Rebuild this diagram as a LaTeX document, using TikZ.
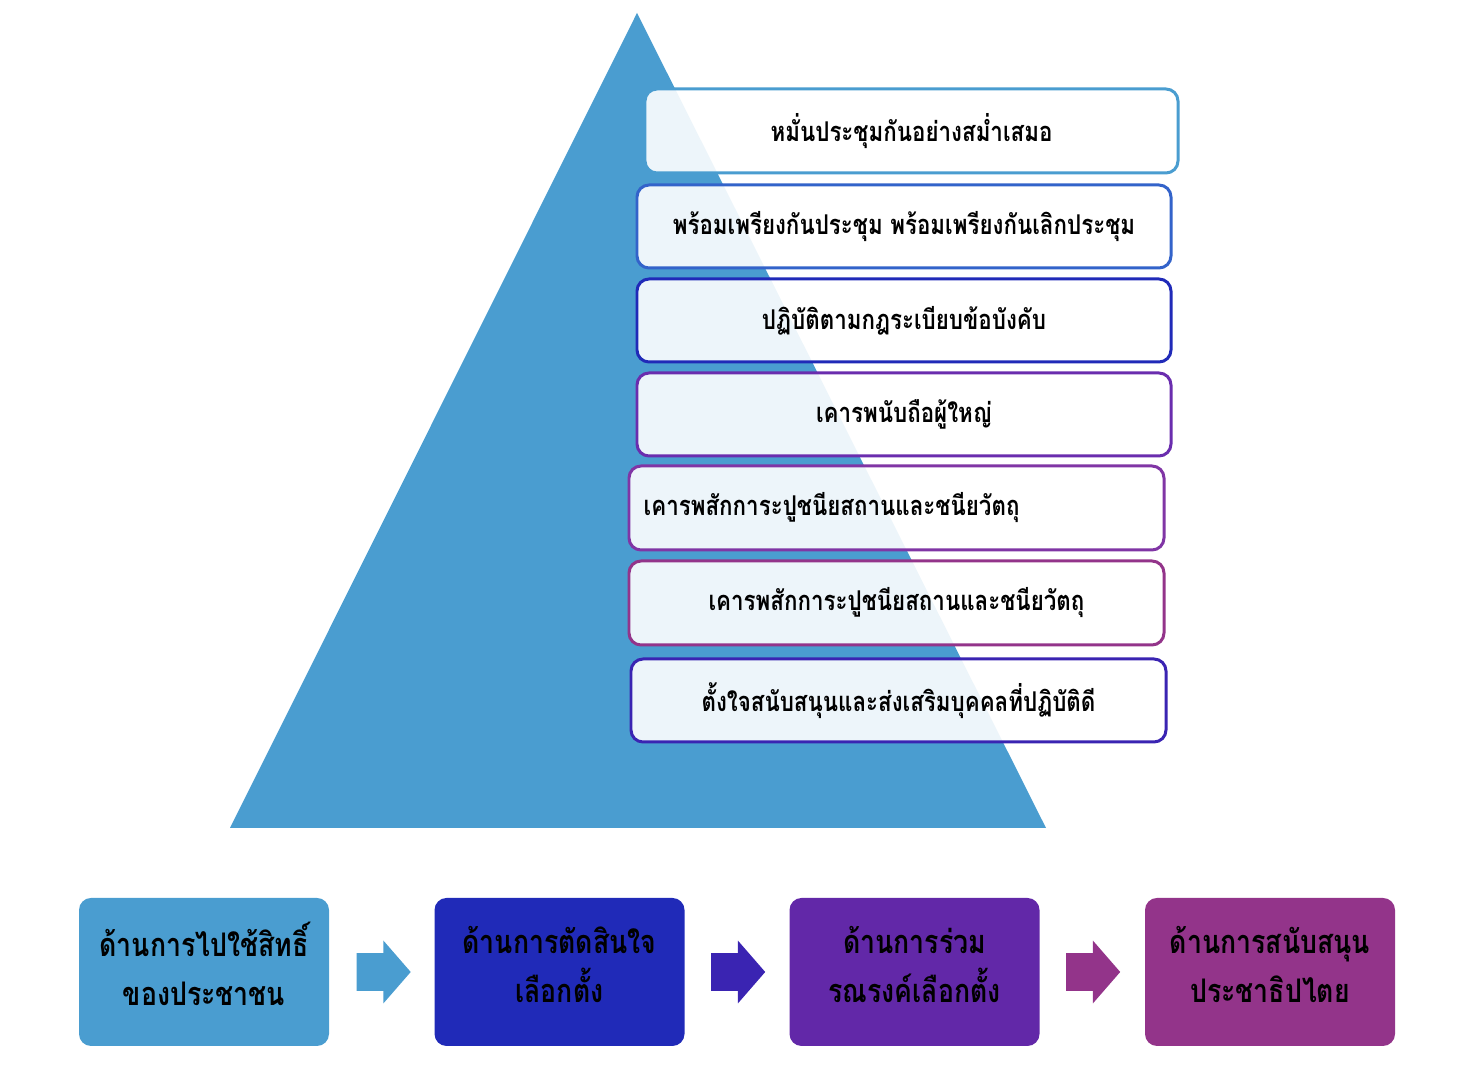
\documentclass[tikz,border=0pt]{standalone}
\usepackage{fontspec}
\newfontfamily\thaifont[Script=Thai, FakeStretch=0.82]{Loma}
\definecolor{skyblue1}{RGB}{74, 157, 208}
\definecolor{royal1}{RGB}{51, 99, 202}
\definecolor{navy1}{RGB}{32, 42, 184}
\definecolor{indigo1}{RGB}{58, 36, 178}
\definecolor{purple1}{RGB}{98, 40, 168}
\definecolor{violet1}{RGB}{106, 45, 174}
\definecolor{plum1}{RGB}{128, 53, 165}
\definecolor{magenta1}{RGB}{147, 52, 138}
\usetikzlibrary{shapes.arrows, positioning, calc}

\tikzset{
  rulebox/.style={draw, line width=1.7pt, rounded corners=0.24cm, fill=white, fill opacity=0.9, text opacity=1,
    minimum width=10.68cm, minimum height=1.66cm, font=\thaifont\bfseries\fontsize{15.5}{19}\selectfont},
  sidebox/.style={rounded corners=0.24cm, minimum width=5cm, minimum height=2.96cm, align=center,
    font=\thaifont\bfseries\fontsize{18.5}{28}\selectfont},
  flowarrow/.style={single arrow, single arrow head extend=0.25cm, single arrow tip angle=98,
    minimum height=1.08cm, inner xsep=0pt, inner ysep=0.37cm, anchor=tail}
}

\begin{document}
\begin{tikzpicture}
  \useasboundingbox (0, 0) rectangle (29.52, 21.6);

  % Pyramid
  \fill[skyblue1] (12.74, 21.34) -- (4.60, 5.04) -- (20.92, 5.04) -- cycle;

  % Rules
  \node[rulebox, draw=skyblue1, minimum width=10.66cm, minimum height=1.68cm] (r1) at (18.23, 18.98) {หมั่นประชุมกันอย่างสม่ำเสมอ};
  \node[rulebox, draw=royal1] (r2) at (18.08, 17.07) {พร้อมเพรียงกันประชุม พร้อมเพรียงกันเลิกประชุม};
  \node[rulebox, draw=navy1] (r3) at (18.08, 15.19) {ปฏิบัติตามกฎระเบียบข้อบังคับ};
  \node[rulebox, draw=violet1] (r4) at (18.08, 13.31) {เคารพนับถือผู้ใหญ่};
  \node[rulebox, draw=plum1, minimum width=10.70cm, minimum height=1.68cm] (r5) at (17.93, 11.44) {};
  \node[anchor=west, font=\thaifont\bfseries\fontsize{15.5}{19}\selectfont] (r5text) at ([xshift=0.2cm]r5.west) {เคารพสักการะปูชนียสถานและชนียวัตถุ};
  \node[rulebox, draw=magenta1, minimum width=10.70cm, minimum height=1.68cm] (r6) at (17.93, 9.54) {เคารพสักการะปูชนียสถานและชนียวัตถุ};
  \node[rulebox, draw=indigo1, minimum width=10.70cm] (r7) at (17.97, 7.59) {ตั้งใจสนับสนุนและส่งเสริมบุคคลที่ปฏิบัติดี};

  % Aspects
  \node[sidebox, fill=skyblue1] (b1) at (4.08, 2.16) {ด้านการไปใช้สิทธิ์\\ของประชาชน\\[-0.67cm]};
  \node[sidebox, fill=navy1] (b2) at (11.19, 2.16) {ด้านการตัดสินใจ\\เลือกตั้ง\\[-0.67cm]};
  \node[sidebox, fill=purple1] (b3) at (18.29, 2.16) {ด้านการร่วม\\รณรงค์เลือกตั้ง\\[-0.67cm]};
  \node[sidebox, fill=magenta1] (b4) at (25.40, 2.16) {ด้านการสนับสนุน\\ประชาธิปไตย\\[-0.67cm]};

  % Arrows between aspects
  \node[flowarrow, fill=skyblue1] (a1) at ([xshift=0.54cm]b1.east) {};
  \node[flowarrow, fill=indigo1] (a2) at ([xshift=0.52cm]b2.east) {};
  \node[flowarrow, fill=magenta1] (a3) at ([xshift=0.52cm]b3.east) {};
\end{tikzpicture}
\end{document}
